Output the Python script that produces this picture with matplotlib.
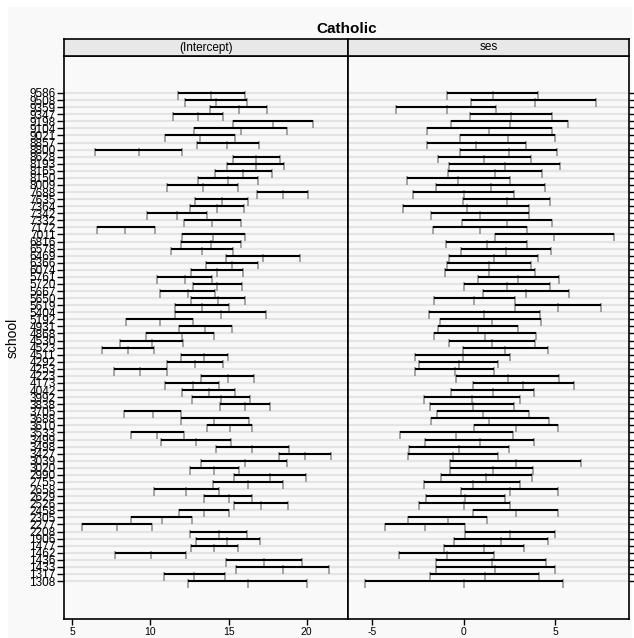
import matplotlib
matplotlib.use('Agg')
import matplotlib.pyplot as plt
from matplotlib.patches import Rectangle

# escuelas catolicas, de arriba hacia abajo
schools = ["9586", "9508", "9359", "9347", "9198", "9104", "9021", "8857", "8800", "8628",
           "8193", "8165", "8150", "8009", "7688", "7635", "7364", "7342", "7332", "7172",
           "7011", "6816", "6578", "6469", "6366", "6074", "5761", "5720", "5667", "5650",
           "5619", "5404", "5192", "4931", "4868", "4530", "4523", "4511", "4292", "4253",
           "4223", "4173", "4042", "3992", "3838", "3705", "3688", "3610", "3533", "3499",
           "3498", "3427", "3039", "3020", "2990", "2755", "2658", "2629", "2526", "2458",
           "2305", "2277", "2208", "1906", "1477", "1462", "1436", "1433", "1317", "1308"]

int_lo = [11.75, 12.24, 13.82, 11.45, 15.27, 12.79, 10.96, 12.99, 6.46, 15.27,
          14.93, 14.14, 13.05, 11.09, 16.82, 12.86, 12.54, 9.79, 12.18, 6.59,
          12.03, 11.98, 11.32, 14.86, 13.58, 12.60, 10.45, 12.73, 10.60, 12.58,
          11.56, 11.56, 8.47, 11.81, 9.73, 8.08, 6.89, 11.98, 11.09, 7.68,
          13.24, 10.96, 12.01, 12.67, 14.46, 8.34, 11.94, 13.65, 8.77, 10.66,
          14.22, 18.21, 13.22, 12.56, 15.33, 14.01, 10.24, 13.45, 15.35, 11.84,
          8.77, 5.61, 12.54, 12.92, 12.60, 7.74, 14.86, 15.48, 10.90, 12.43]
int_est = [13.90, 14.22, 15.67, 13.07, 17.87, 15.80, 13.20, 14.93, 9.26, 16.78,
           16.74, 15.95, 14.99, 13.35, 18.46, 14.56, 14.29, 11.71, 13.95, 8.40,
           14.03, 13.88, 13.28, 17.21, 15.25, 14.29, 12.20, 14.29, 12.39, 14.33,
           13.28, 14.52, 10.64, 13.52, 12.01, 10.13, 8.55, 13.45, 12.88, 9.34,
           14.95, 12.71, 13.73, 14.52, 16.03, 10.15, 14.09, 15.07, 10.45, 12.94,
           16.52, 19.87, 16.03, 14.07, 17.67, 16.23, 12.30, 15.01, 17.08, 13.41,
           10.73, 7.87, 14.37, 14.93, 14.07, 10.02, 17.27, 18.46, 12.79, 16.27]
int_hi = [16.05, 16.16, 17.48, 14.63, 20.42, 18.76, 15.44, 16.95, 12.01, 18.29,
          18.53, 17.76, 16.86, 15.61, 20.10, 16.23, 15.97, 13.60, 15.80, 10.30,
          16.05, 15.82, 15.31, 19.57, 16.89, 15.93, 13.97, 15.86, 14.16, 16.05,
          15.01, 17.38, 12.75, 15.25, 14.07, 12.09, 10.24, 14.99, 14.65, 11.05,
          16.65, 14.39, 15.39, 16.35, 17.63, 11.94, 16.29, 16.52, 12.15, 15.18,
          18.89, 21.53, 18.76, 15.69, 19.93, 18.48, 14.39, 16.52, 18.78, 15.01,
          12.64, 10.09, 16.16, 17.01, 15.63, 12.30, 19.70, 21.45, 14.78, 20.04]

ses_lo = [-0.92, 0.43, -3.68, 0.37, -0.66, -2.01, -0.21, -1.97, -0.21, -1.39,
          -0.81, -0.85, -3.08, -1.50, -2.76, -0.03, -3.28, -1.75, -0.10, -1.66,
          1.74, -0.94, -0.15, -0.77, -0.88, -1.03, 0.77, 0.03, 1.08, -1.59,
          2.81, -1.86, -1.26, -1.41, -1.59, -0.77, -0.05, -2.65, -2.45, -2.65,
          -0.41, 0.52, -0.66, -2.17, -1.81, -1.45, -1.75, 0.57, -3.48, -2.08,
          -2.96, -3.05, -0.74, -0.72, -1.25, -2.17, -0.15, -2.03, -2.45, 0.52,
          -3.01, -4.30, 0.06, -0.50, -1.05, -3.52, -1.52, -1.50, -1.81, -5.39]
ses_est = [1.59, 3.88, -0.92, 2.57, 2.52, 1.37, 2.41, 0.70, 2.46, 1.10,
           2.25, 1.70, -0.30, 1.48, 0.03, 2.35, 0.17, 0.90, 2.35, 0.90,
           4.96, 1.28, 2.30, 1.65, 1.41, 1.41, 2.99, 2.35, 3.39, 0.59,
           5.17, 1.12, 1.54, 0.79, 1.17, 1.54, 2.25, -0.01, -0.25, -0.48,
           2.41, 3.25, 1.59, 0.46, 0.50, 1.05, 1.41, 2.86, -0.39, 0.92,
           -0.25, -0.59, 2.88, 1.59, 1.23, 0.50, 2.52, 0.10, 0.05, 2.88,
           -0.85, -2.10, 2.52, 2.05, 1.10, -0.92, 1.54, 1.74, 1.17, 0.01]
ses_hi = [4.08, 7.25, 1.79, 4.81, 5.70, 4.81, 5.01, 3.39, 5.12, 3.66,
          5.28, 4.28, 2.52, 4.43, 2.77, 4.70, 3.56, 3.56, 4.81, 3.45,
          8.19, 3.45, 4.75, 4.08, 3.66, 3.88, 5.23, 4.70, 5.74, 2.79,
          7.50, 4.15, 4.25, 2.99, 3.97, 3.88, 4.59, 2.54, 1.88, 1.65,
          5.23, 6.01, 3.83, 3.06, 2.77, 3.56, 4.66, 5.14, 2.68, 3.86,
          2.46, 1.90, 6.41, 3.81, 3.72, 3.10, 5.17, 2.25, 2.54, 5.17,
          1.28, 0.06, 5.01, 4.59, 3.30, 1.68, 4.48, 5.01, 4.14, 5.41]

int_ticks = [5, 10, 15, 20]
ses_ticks = [-5, 0, 5]

plt.rcParams['font.family'] = ['Liberation Sans Narrow', 'Liberation Sans', 'DejaVu Sans']

W, H = 634, 638
BG = '#f9f9f9'
fig = plt.figure(figsize=(W / 100, H / 100), dpi=100, facecolor='white')
fig.patches.append(Rectangle((8 / W, 0), (632 - 8) / W, (H - 7) / H,
                             transform=fig.transFigure, facecolor=BG,
                             edgecolor='none', zorder=-10))


def fx(px):
    return px / W


def fy(py):
    return 1 - py / H


n = len(schools)
ypos = [n - i for i in range(n)]

panels = [
    ("(Intercept)", 64, 347.7, (4.48, 22.62), int_ticks, int_lo, int_est, int_hi),
    ("ses", 347.7, 629, (-6.32, 9.03), ses_ticks, ses_lo, ses_est, ses_hi),
]

for k, (name, x0, x1, xlim, ticks, lo, est, hi) in enumerate(panels):
    ax = fig.add_axes([fx(x0), fy(619), fx(x1 - x0), (619 - 56) / H])
    ax.set_facecolor(BG)
    ax.set_xlim(*xlim)
    ax.set_ylim(-4.37, 75.23)

    # lineas de referencia grises
    for y in ypos:
        ax.axhline(y, color='#e4e4e4', lw=1.6, zorder=1)

    # marcas en lo, est, hi
    for y, a, b, c in zip(ypos, lo, est, hi):
        ax.vlines([a, b, c], y - 0.95, y + 0.25, color='#8c8c8c', lw=1.1, zorder=2)
    ax.hlines(ypos, lo, hi, color='black', lw=1.5, zorder=3)

    ax.set_xticks(ticks)
    ax.set_xticklabels([str(t) for t in ticks])
    ax.tick_params(axis='x', direction='out', length=4, width=1, pad=1.5,
                   labelsize=7.5, top=False)
    for s in ax.spines.values():
        s.set_linewidth(1.2)

    if k == 0:
        ax.set_yticks(ypos)
        ax.set_yticklabels(schools)
        ax.tick_params(axis='y', direction='out', length=5, width=1, pad=1,
                       labelsize=8.5, right=False)
        ax.set_ylabel('school', fontsize=10, family='Liberation Sans')
        ax.yaxis.set_label_coords(-0.155, 0.5)
    else:
        ax.set_yticks(ypos)
        ax.tick_params(axis='y', direction='out', length=5, width=1,
                       left=False, labelleft=False, right=True)

    # tira superior con el nombre del coeficiente
    st = fig.add_axes([fx(x0), fy(56), fx(x1 - x0), (56 - 39) / H])
    st.set_facecolor('#e8e8e8')
    st.set_xticks([])
    st.set_yticks([])
    for s in st.spines.values():
        s.set_linewidth(1.2)
    st.text(0.5, 0.5, name, ha='center', va='center', fontsize=8.5,
            family='Liberation Sans', transform=st.transAxes)

fig.text(fx((64 + 629) / 2), fy(29), 'Catholic', ha='center', va='center',
         fontsize=11, fontweight='bold', family='Liberation Sans')

plt.savefig('out.png', dpi=100, facecolor=fig.get_facecolor())
plt.close()
